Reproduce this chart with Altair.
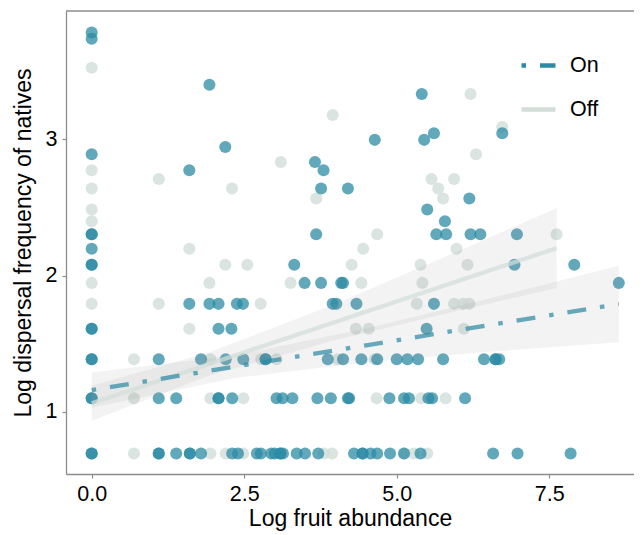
import altair as alt
import pandas as pd

TEAL = "#2C8BA4"
GRAY = "#D4DFDA"
GRAY_LINE = "#D3DED9"
FRAME = "#8C8C8C"

# ---- "On" points (x = log fruit abundance, y = log dispersal frequency) ----
on_x = [
    0, 0, 1.099, 1.099, 1.386, 1.609, 1.609, 1.792, 2.303, 2.398, 2.708, 2.773, 2.944, 3.0,
    3.091, 3.091, 3.135, 3.36, 3.497, 3.714, 4.30, 4.44, 4.44, 4.57, 4.68, 4.89, 5.12, 5.39,
    6.58, 6.98, 7.85,
    0, 0, 1.099, 1.386, 2.079, 2.079, 2.303, 3.03, 3.13, 3.29, 3.70, 3.92, 4.20, 4.22, 4.88,
    5.12, 5.20, 5.52, 5.58, 6.12,
    0, 0, 1.099, 1.792, 2.197, 2.485, 2.85, 2.85, 3.87, 4.12, 4.42, 4.68, 5.00, 5.175, 5.35,
    5.76, 6.43, 6.62, 6.62, 6.68,
    0, 0, 2.079, 2.29, 5.49,
    1.60, 1.93, 2.079, 2.38, 2.48, 3.95, 4.01, 4.34, 5.61,
    3.49, 3.76, 4.09, 4.12, 8.64,
    0, 0, 3.32, 6.93, 7.91,
    0,
    0, 0, 3.68, 5.65, 5.81, 6.21, 6.37, 6.97,
    5.79, 5.50, 6.19, 3.76, 4.20, 1.60, 3.80, 3.66, 0, 2.19, 4.64, 5.45, 5.61, 6.73,
    5.41, 1.93, 0, 0,
]
on_y = (
    [0.693] * 31 + [1.099] * 20 + [1.386] * 20 + [1.609] * 5 + [1.792] * 9 + [1.946] * 5
    + [2.079] * 5 + [2.197] * 1 + [2.303] * 8
    + [2.398, 2.485, 2.565, 2.639, 2.639, 2.773, 2.773, 2.833, 2.890, 2.944, 2.996, 2.996,
       3.045, 3.045, 3.332, 3.401, 3.738, 3.784]
)

# ---- "Off" points ----
off_x = [
    0.693, 1.946, 2.197, 2.485, 3.81, 3.94, 5.12, 5.28, 5.50,
    0.693, 1.946, 2.485, 4.67, 5.40, 5.80,
    0.693, 1.946, 2.78, 3.03, 4.03, 4.64,
    1.60, 4.33, 4.54, 6.10,
    0, 1.10, 2.77, 5.33, 5.94, 6.09, 6.19,
    0, 1.93, 3.26, 4.42, 5.42,
    2.19, 2.55, 4.26, 5.39, 6.16,
    1.60, 4.45, 5.98,
    4.68, 7.62,
    0, 0, 3.68, 5.76, 0, 2.30, 5.68, 1.10, 5.57, 5.94, 0, 3.10, 6.30, 6.73, 3.95, 6.21, 0,
]
off_y = (
    [0.693] * 9 + [1.099] * 6 + [1.386] * 6 + [1.609] * 4 + [1.792] * 7 + [1.946] * 5
    + [2.079] * 5 + [2.197] * 3 + [2.303] * 2
    + [2.398, 2.485, 2.565, 2.565, 2.639, 2.639, 2.639, 2.708, 2.708, 2.708, 2.773, 2.833,
       2.890, 3.091, 3.178, 3.332, 3.526]
)

# ---- fitted lines with confidence bands ----
on_fit_x = [0, 2.35, 4.5, 6.5, 8.64]
on_fit_y = [1.159, 1.331, 1.488, 1.635, 1.791]
on_fit_lo = [1.029, 1.248, 1.364, 1.440, 1.511]
on_fit_hi = [1.289, 1.414, 1.612, 1.830, 2.071]

off_fit_x = [0, 1.93, 4.0, 6.0, 7.62]
off_fit_y = [1.062, 1.351, 1.660, 1.959, 2.201]
off_fit_lo = [0.934, 1.266, 1.527, 1.741, 1.908]
off_fit_hi = [1.190, 1.436, 1.793, 2.177, 2.495]

groups = ["On", "Off"]
x_ticks = [0, 2.5, 5, 7.5]
y_ticks = [1, 2, 3]
x_domain = [-0.421, 8.889]
y_domain = [0.543, 3.942]

on_pts = pd.DataFrame({"x": on_x, "y": on_y})
off_pts = pd.DataFrame({"x": off_x, "y": off_y})
fit = pd.DataFrame({
    "x": off_fit_x + on_fit_x,
    "fit": off_fit_y + on_fit_y,
    "lo": off_fit_lo + on_fit_lo,
    "hi": off_fit_hi + on_fit_hi,
    "group": ["Off"] * len(off_fit_x) + ["On"] * len(on_fit_x),
})
top_edge = pd.DataFrame({"x0": [x_domain[0]], "x1": [x_domain[1]], "y": [y_domain[1]]})

xs = alt.Scale(domain=x_domain, nice=False, zero=False)
ys = alt.Scale(domain=y_domain, nice=False, zero=False)

x_axis = alt.Axis(title="Log fruit abundance", values=x_ticks, format=".1f", titlePadding=3,
                  orient="bottom")
y_axis = alt.Axis(title="Log dispersal frequency of natives", values=y_ticks, format="d",
                  titlePadding=10, orient="left")


def pts_layer(df, color, op):
    return alt.Chart(df).mark_circle(size=145, color=color, opacity=op).encode(
        x=alt.X("x:Q", scale=xs, axis=x_axis),
        y=alt.Y("y:Q", scale=ys, axis=y_axis),
    )


off_layer = pts_layer(off_pts, GRAY, 0.85)
on_layer = pts_layer(on_pts, TEAL, 0.75)

band = alt.Chart(fit).mark_area(color="#999999", opacity=0.12).encode(
    x=alt.X("x:Q", scale=xs, axis=x_axis),
    y=alt.Y("lo:Q", scale=ys, axis=y_axis),
    y2="hi:Q",
    detail="group:N",
)

leg = alt.Legend(title=None, orient="top-right", offset=35,
                 symbolType="stroke", symbolSize=1156, symbolStrokeWidth=4.5,
                 labelFontSize=21.5, labelFont="Liberation Sans", labelColor="#000000",
                 rowPadding=14, labelOffset=12)

lines = alt.Chart(fit).mark_line(strokeWidth=4.3, strokeOpacity=0.72).encode(
    x=alt.X("x:Q", scale=xs, axis=x_axis),
    y=alt.Y("fit:Q", scale=ys, axis=y_axis),
    stroke=alt.Stroke("group:N", scale=alt.Scale(domain=groups, range=[TEAL, GRAY_LINE]), legend=leg),
    strokeDash=alt.StrokeDash("group:N",
                              scale=alt.Scale(domain=groups, range=[[4.5, 14, 19, 14], [1, 0]]),
                              legend=leg),
)

top_rule = alt.Chart(top_edge).mark_rule(color=FRAME, strokeWidth=1.3).encode(
    x=alt.X("x0:Q", scale=xs, axis=x_axis),
    x2="x1:Q",
    y=alt.Y("y:Q", scale=ys, axis=y_axis),
)

chart = (
    alt.layer(off_layer, on_layer, band, lines, top_rule)
    .properties(width=568, height=463,
                padding={"left": 58, "top": 3, "right": 0, "bottom": 61},
                autosize=alt.AutoSizeParams(type="none"))
    .configure_view(stroke=None)
    .configure_axis(labelFont="Liberation Sans", titleFont="Liberation Sans",
                    labelFontSize=21.5, titleFontSize=23, titleFontWeight="normal",
                    labelColor="#000000", titleColor="#000000",
                    domainColor=FRAME, tickColor=FRAME, domainWidth=1.3,
                    tickWidth=1.2, tickSize=4, labelPadding=5, grid=False)
)

chart.save("out.html", embed_options={"renderer": "svg", "actions": False})
